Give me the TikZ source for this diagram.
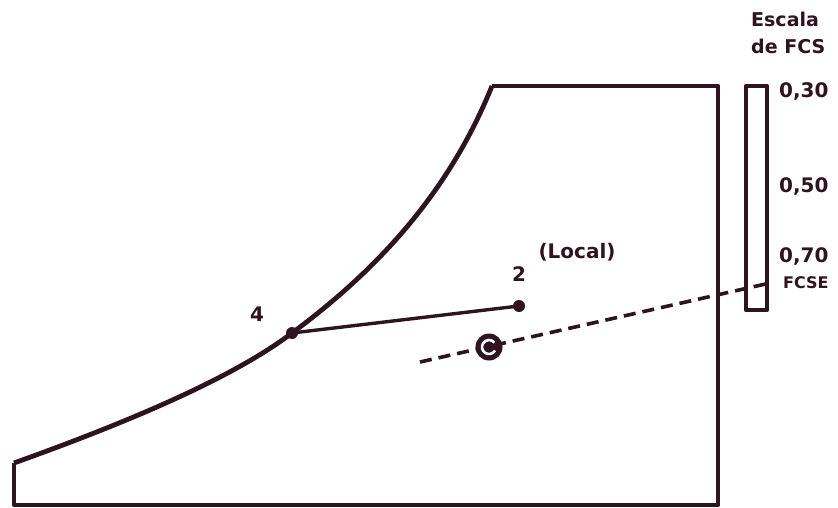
\documentclass[tikz,border=0pt]{standalone}
\usepackage{fontspec}
\setmainfont{DejaVu Sans}
\definecolor{tinta}{RGB}{45,20,30}
\begin{document}
\begin{tikzpicture}[x=1pt, y=-1pt, line join=round,
	wall/.style={line width=4.8pt, draw=tinta},
	lbl/.style={text=tinta, font=\bfseries\fontsize{20}{23}\selectfont, inner sep=0pt}]
	\useasboundingbox (0,0) rectangle (838,508);
	% 1. puntos del contorno
	\coordinate (A) at (14,463);
	\coordinate (A0) at (14,505);
	\coordinate (B0) at (718,505);
	\coordinate (T) at (718,86);
	\coordinate (P) at (492,86);
	\coordinate (F) at (292,333); % punto 4 sobre la curva
	\coordinate (L) at (519,306); % punto 2
	\coordinate (D1) at (420,362);
	\coordinate (D2) at (770,283);
	
	% 2. contorno y curva
	\draw[wall] (A) -- (A0) -- (B0) -- (T) -- (P);
	\draw[wall] (A) .. controls (120,425) and (230,380) .. (F)
		.. controls (380,268) and (450,190) .. (P);
	
	% 3. linea 4--2 y linea discontinua
	\draw[line width=3.4pt, draw=tinta] (F) -- (L);
	\fill[tinta] (F) circle (6);
	\fill[tinta] (L) circle (6);
	\draw[line width=3.6pt, dash pattern=on 12pt off 7pt, draw=tinta] (D1) -- (D2);
	\node[circle, fill=tinta, minimum size=27pt, inner sep=0pt] (C) at (489,347) {};
	\draw[line width=2.6pt, draw=white] (C.center) ++(30:7) arc (30:320:7);
	
	% 4. escala de FCS
	\draw[line width=4.4pt, draw=tinta] (746,86) rectangle (767,310);
	
	% 5. etiquetas
	\node[lbl] (n2) at (519,274) {2};
	\node[lbl] (n4) at (257,314) {4};
	\node[lbl] (loc) at (577,252) {(Local)};
	\node[lbl, anchor=west] (e30) at (779,91) {0,30};
	\node[lbl, anchor=west] (e50) at (779,186) {0,50};
	\node[lbl, anchor=west] (e70) at (779,256) {0,70};
	\node[lbl, anchor=west, font=\bfseries\fontsize{16}{18}\selectfont] (fcse) at (783,283) {FCSE};
	\node[lbl, anchor=west, font=\bfseries\fontsize{19}{22}\selectfont] (esc) at (751,19) {Escala};
	\node[lbl, anchor=west, font=\bfseries\fontsize{19}{22}\selectfont] (dfc) at (751,46) {de FCS};
	
\end{tikzpicture}
\end{document}
